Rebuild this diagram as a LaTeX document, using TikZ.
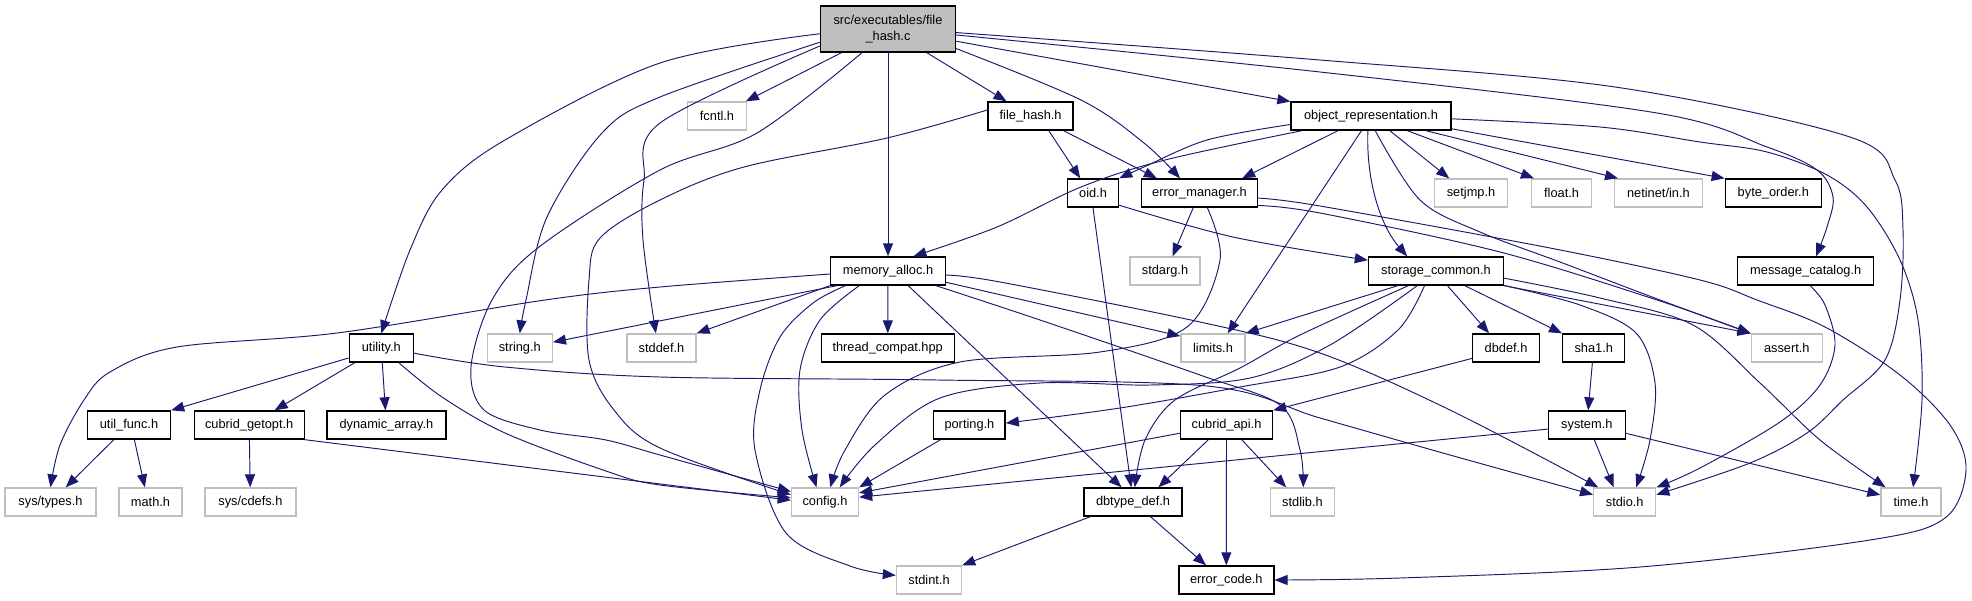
\documentclass[tikz,border=0pt]{standalone}
\usepackage{fontspec}
\setmainfont{Liberation Sans}
\usetikzlibrary{arrows.meta,calc}
\definecolor{edgeblue}{HTML}{191970}
\definecolor{graybox}{HTML}{BFBFBF}
\newcommand\hfont{\fontsize{12.8}{16}\selectfont}
\begin{document}
\begin{tikzpicture}[x=1pt,y=-1pt,
  hdr/.style={draw=black, line width=1.4pt, fill=white, minimum height=28, inner sep=0pt, font=\hfont},
  sys/.style={draw=graybox, line width=1.4pt, fill=white, minimum height=28, inner sep=0pt, font=\hfont},
  mainnode/.style={draw=black, line width=1.4pt, fill=graybox, inner sep=0pt, align=center, font=\hfont},
  edge/.style={draw=edgeblue, line width=0.95pt, -{Triangle[length=13pt,width=10pt]}},
  sm/.style={smooth, tension=0.55}]
\useasboundingbox (0,0) rectangle (1972,600);
% nodes
\node[mainnode, minimum width=135, minimum height=46] (T) at (888,29) {src/executables/file\\\_hash.c};
\node[sys, minimum width=59] (fcntl) at (717,116) {fcntl.h};
\node[hdr, minimum width=85] (filehash) at (1030.6,116) {file\_hash.h};
\node[hdr, minimum width=160] (objrep) at (1371,116) {object\_representation.h};
\node[hdr, minimum width=51] (oid) at (1093,193) {oid.h};
\node[hdr, minimum width=116] (errmgr) at (1199.5,193) {error\_manager.h};
\node[sys, minimum width=73] (setjmp) at (1471,193) {setjmp.h};
\node[sys, minimum width=60] (floath) at (1561.6,193) {float.h};
\node[sys, minimum width=88] (netinet) at (1658.4,193) {netinet/in.h};
\node[hdr, minimum width=96] (byteorder) at (1773.3,193) {byte\_order.h};
\node[hdr, minimum width=115] (memalloc) at (888,271) {memory\_alloc.h};
\node[sys, minimum width=70] (stdarg) at (1165,271) {stdarg.h};
\node[hdr, minimum width=135] (storage) at (1436,271) {storage\_common.h};
\node[hdr, minimum width=136] (msgcat) at (1805.7,271) {message\_catalog.h};
\node[hdr, minimum width=64] (utility) at (381.3,348) {utility.h};
\node[sys, minimum width=65] (stringh) at (519.8,348) {string.h};
\node[sys, minimum width=69] (stddef) at (661.5,348) {stddef.h};
\node[hdr, minimum width=133] (thread) at (887.7,348) {thread\_compat.hpp};
\node[sys, minimum width=64] (limits) at (1213,348) {limits.h};
\node[hdr, minimum width=66.5] (dbdef) at (1506,348) {dbdef.h};
\node[hdr, minimum width=62] (sha1) at (1593.7,348) {sha1.h};
\node[sys, minimum width=71] (assert) at (1786.8,348) {assert.h};
\node[hdr, minimum width=83] (utilfunc) at (129,425) {util\_func.h};
\node[hdr, minimum width=110] (getopt) at (249.2,425) {cubrid\_getopt.h};
\node[hdr, minimum width=119] (dynarr) at (386.4,425) {dynamic\_array.h};
\node[hdr, minimum width=71.5] (porting) at (969.4,425) {porting.h};
\node[hdr, minimum width=92] (cubridapi) at (1226.5,425) {cubrid\_api.h};
\node[hdr, minimum width=77] (system) at (1586.8,425) {system.h};
\node[sys, minimum width=91] (systypes) at (50.5,502) {sys/types.h};
\node[sys, minimum width=63] (math) at (150.5,502) {math.h};
\node[sys, minimum width=91] (syscdefs) at (250.4,502) {sys/cdefs.h};
\node[sys, minimum width=67] (config) at (825,502) {config.h};
\node[hdr, minimum width=98] (dbtype) at (1133,502) {dbtype\_def.h};
\node[sys, minimum width=64] (stdlib) at (1302.5,502) {stdlib.h};
\node[sys, minimum width=62] (stdio) at (1624.7,502) {stdio.h};
\node[sys, minimum width=60] (timeh) at (1911,502) {time.h};
\node[sys, minimum width=65] (stdint) at (929,580) {stdint.h};
\node[hdr, minimum width=95] (errcode) at (1226.3,580) {error\_code.h};
% edges from file_hash.c
\draw[edge] (T) -- (fcntl);
\draw[edge] (T) -- (filehash);
\draw[edge] (T) -- (memalloc);
\draw[edge] (T) -- (objrep);
\draw[edge] plot[sm] coordinates {(T.-16) (1081,100) (1144,143) (errmgr.143)};
\draw[edge] plot[sm] coordinates {(T.184) (660,63) (505,140) (442,190) (410,250) (utility.north)};
\draw[edge] plot[sm] coordinates {(T.191) (660,97) (602,133) (547,217) (526,300) (stringh.north)};
\draw[edge] plot[sm] coordinates {(T.194) (660,123) (644,180) (643,240) (stddef.111)};
\draw[edge] plot[sm] coordinates {($(T.south)+(-26,0)$) (757,133) (660,170) (539,247) (492,300) (471,367) (484,410) (540,430) (606,440) (660,455) (config.163)};
\draw[edge] plot[sm] coordinates {(T.-5) (1320,72) (1657,113) (1767,147) (1817,170) (1833,197) (1827,227) (msgcat.55)};
\draw[edge] plot[sm] coordinates {(T.-3) (1320,60) (1615,87) (1850,137) (1895,180) (1903,230) (1900,300) (1885,360) (1843,400) (1807,433) (1750,463) (stdio.13)};
% file_hash.h
\draw[edge] (filehash.-39) -- (oid.131);
\draw[edge] (filehash.-24) -- (errmgr.161);
\draw[edge] plot[sm] coordinates {(filehash.172) (887,138) (744,167) (660,200) (600,238) (589,280) (589,360) (614,410) (660,448) (config.168)};
% object_representation.h
\draw[edge] plot[sm] coordinates {(objrep.186) (1207,140) (1144,167) (oid.north east)};
\draw[edge] plot[sm] coordinates {(objrep.192) (1165,160) (1081,187) (997,227) (memalloc.30)};
\draw[edge] (objrep.204) -- (errmgr.19);
\draw[edge] (objrep.237) -- (limits.45);
\draw[edge] (objrep.258) .. controls (1366,180) and (1380,225) .. (storage.153);
\draw[edge] plot[sm] coordinates {(objrep.-74) (1420,200) (1480,232) (1560,262) (1660,300) (assert.north west)};
\draw[edge] (objrep.-38) -- (setjmp.146);
\draw[edge] (objrep.-22) -- (floath.152);
\draw[edge] (objrep.-15) -- (netinet.160);
\draw[edge] (objrep.-9) -- (byteorder.north west);
\draw[edge] plot[sm] coordinates {(objrep.-2) (1600,127) (1700,142) (1767,152) (1827,175) (1867,207) (1900,260) (1918,320) (1922,400) (timeh.82)};
% oid.h
\draw[edge] plot[sm] coordinates {(oid.-25) (1233,237) (storage.171)};
\draw[edge] (oid.south) -- (dbtype.97);
% error_manager.h
\draw[edge] (errmgr.247) -- (stdarg.63);
\draw[edge] plot[sm] coordinates {(errmgr.-62) (1220,260) (1187,327) (1100,352) (960,362) (885,395) (845,450) (config.70)};
\draw[edge] plot[sm] coordinates {(errmgr.-12) (1320,213) (1500,252) (1657,300) (assert.north west)};
\draw[edge] plot[sm] coordinates {(errmgr.-5) (1320,206) (1550,248) (1700,280) (1757,300) (1825,327) (1900,375) (1950,425) (1966,470) (1945,518) (1870,540) (1640,567) (1400,578) (errcode.east)};
% memory_alloc.h
\draw[edge] plot[sm] coordinates {(memalloc.183) (660,287) (545,300) (337,333) (177,347) (110,372) (84,400) (60,445) (systypes.north)};
\draw[edge] (memalloc.196) -- (stringh.10);
\draw[edge] (memalloc.south west) -- (stddef.north east);
\draw[edge] plot[sm] coordinates {(memalloc.199) (813,303) (780,337) (760,390) (755,450) (786,533) (850,566) (stdint.172)};
\draw[edge] plot[sm] coordinates {(memalloc.207) (820,320) (800,370) (802,430) (config.120)};
\draw[edge] (memalloc) -- (thread);
\draw[edge] (memalloc.-36) -- (dbtype.128);
\draw[edge] plot[sm] coordinates {(memalloc.-17) (1040,320) (1200,375) (1280,405) (1300,450) (stdlib.87)};
\draw[edge] (memalloc.-11) -- (limits.160);
\draw[edge] plot[sm] coordinates {(memalloc.-4) (1000,282) (1200,322) (1320,353) (1450,410) (stdio.151)};
% storage_common.h
\draw[edge] (storage.201) -- (limits.north east);
\draw[edge] plot[sm] coordinates {(storage.208) (1300,335) (1240,368) (1175,400) (1145,440) (dbtype.83)};
\draw[edge] plot[sm] coordinates {(storage.218) (1330,345) (1250,378) (1150,385) (1040,383) (940,398) (875,445) (config.45)};
\draw[edge] plot[sm] coordinates {(storage.232) (1398,330) (1340,367) (1240,387) (1120,408) (porting.3)};
\draw[edge] (storage.-52) -- (dbdef.139);
\draw[edge] (storage.-27) -- (sha1.north west);
\draw[edge] plot[sm] coordinates {(storage.-12) (1580,305) (1636,333) (1655,383) (1650,440) (stdio.52)};
\draw[edge] (storage.south east) -- (assert.north west);
\draw[edge] plot[sm] coordinates {(storage.-6) (1600,298) (1693,325) (1760,383) (1820,440) (timeh.150)};
% message_catalog.h
\draw[edge] plot[sm] coordinates {(msgcat.-73) (1825,305) (1835,345) (1820,385) (1780,422) (1700,468) (stdio.north east)};
% dbdef.h, sha1.h, system.h
\draw[edge] (dbdef.197) -- (cubridapi.north east);
\draw[edge] (sha1) -- (system);
\draw[edge] (system.-63) -- (stdio.127);
\draw[edge] (system.-12) -- (timeh.167);
\draw[edge] (system.186) -- (config.8);
% cubrid_api.h
\draw[edge] (cubridapi.190) -- (config.15);
\draw[edge] (cubridapi.219) -- (dbtype.30);
\draw[edge] (cubridapi.-44) -- (stdlib.138);
\draw[edge] (cubridapi) -- (errcode);
% porting.h, dbtype_def.h
\draw[edge] (porting.207) -- (config.north east);
\draw[edge] (dbtype.199) -- (stdint.north east);
\draw[edge] (dbtype.-40) -- (errcode.144);
% utility.h
\draw[edge] (utility.197) -- (utilfunc.north east);
\draw[edge] (utility.209) -- (getopt.30);
\draw[edge] (utility) -- (dynarr);
\draw[edge] plot[sm] coordinates {(utility.-40) (442,397) (505,433) (606,471) (660,485) (config.173)};
\draw[edge] plot[sm] coordinates {(utility.-9) (505,367) (660,377) (938,380) (1207,386) (1320,418) (1450,455) (stdio.167)};
% util_func.h, cubrid_getopt.h
\draw[edge] (utilfunc.224) -- (systypes.44);
\draw[edge] (utilfunc.-70) -- (math.111);
\draw[edge] (getopt) -- (syscdefs);
\draw[edge] (getopt.south east) -- (config.177);
\end{tikzpicture}
\end{document}
